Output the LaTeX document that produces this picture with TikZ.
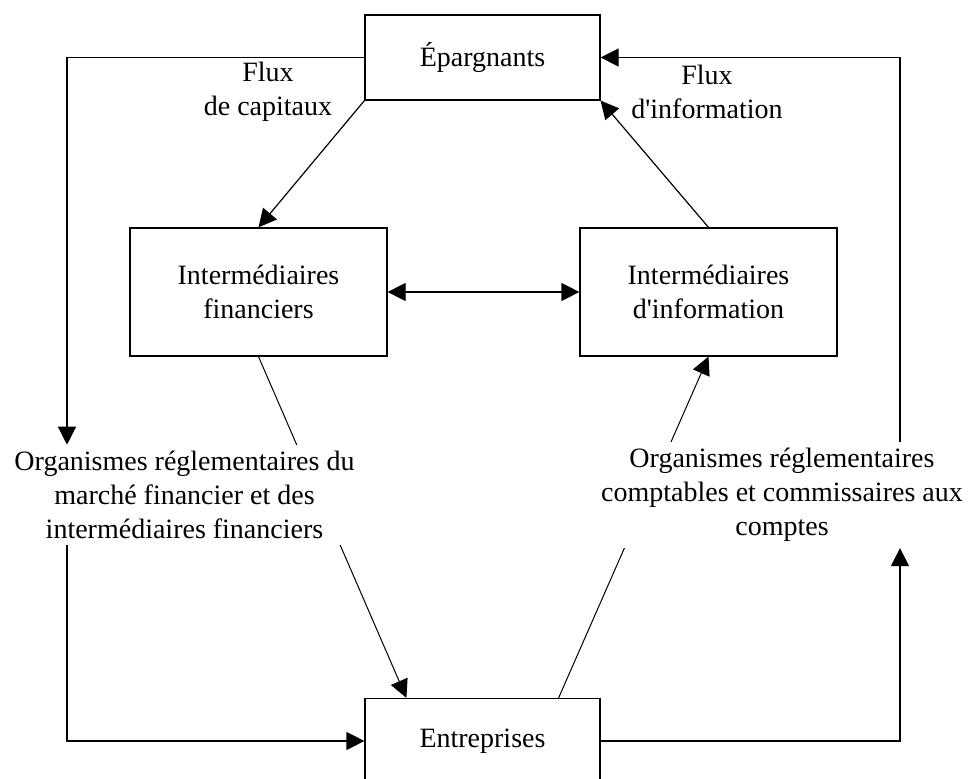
\documentclass[tikz,border=0pt]{standalone}
\usepackage{fontspec}
\setmainfont{Liberation Serif}
\usetikzlibrary{arrows.meta,backgrounds}
\begin{document}
\begin{tikzpicture}[x=0.5pt,y=-0.5pt]

      % Boxes with a thin black border, text set in the middle
      \tikzstyle{bloc}=[draw,line width=0.6pt,align=center,minimum width=117.5pt,minimum height=42.5pt]
      \tikzstyle{grandbloc}=[bloc,minimum width=128.5pt,minimum height=64pt]
      % Free text, with a white fill so that the crossing lines stop at its edges
      \tikzstyle{texte}=[align=center,fill=white,inner sep=3pt]
      \tikzstyle{fleche}=[line width=0.6pt,-{Triangle[length=9pt,width=9pt]}]

      \def\decal{21pt}     % Offset of the slanted lines from the corners of the Entreprises box
      \def\apos{\textquotesingle}     % Straight apostrophe, as in the original

      \useasboundingbox (0,0) rectangle (970,779);
      \fontsize{14pt}{17pt}\selectfont

      \node[bloc] (epargnants) at (482.5,57.5) {Épargnants};
      \node[grandbloc] (intfin) at (258.5,292) {Intermédiaires\\financiers};
      \node[grandbloc] (intinfo) at (708.5,292) {Intermédiaires\\d\apos information};
      \node[bloc] (entreprises) at (482.5,741) {Entreprises};

      \node[texte] (orgfin) at (184.5,495) {Organismes réglementaires du\\marché financier et des\\intermédiaires financiers};
      \node[texte] (orgcomp) at (782,495) {Organismes réglementaires\\comptables et commissaires aux\\comptes};

      \node[align=center] (fluxcap) at (268,92) {Flux\\de capitaux};
      \node[align=center] (fluxinfo) at (707,92) {Flux\\d\apos information};

      \coordinate (gauche) at (67,0);      % Column of the outer left loop
      \coordinate (droite) at (900,0);     % Column of the outer right loop

      % Outer loops
      \draw[fleche] (epargnants.west) -| (gauche |- orgfin.north);
      \draw[fleche] (gauche |- orgfin.south) |- (entreprises.west);
      \draw[fleche] (entreprises.east) -| (droite |- orgcomp.south);
      \draw[fleche] (droite |- orgcomp.north) |- (epargnants.east);

      % Inner flows
      \draw[fleche] (epargnants.south west) -- (intfin.north);
      \draw[fleche] (intinfo.north) -- (epargnants.south east);
      \draw[fleche,{Triangle[length=9pt,width=9pt]}-{Triangle[length=9pt,width=9pt]}] (intfin.east) -- (intinfo.west);

      % Slanted lines that pass behind the texts
      \begin{scope}[on background layer]
        \draw[fleche,line width=0.5pt] (intfin.south) -- ([xshift=\decal]entreprises.north west);
        \draw[fleche,line width=0.5pt] ([xshift=-\decal]entreprises.north east) -- (intinfo.south);
      \end{scope}

   \end{tikzpicture}
\end{document}
